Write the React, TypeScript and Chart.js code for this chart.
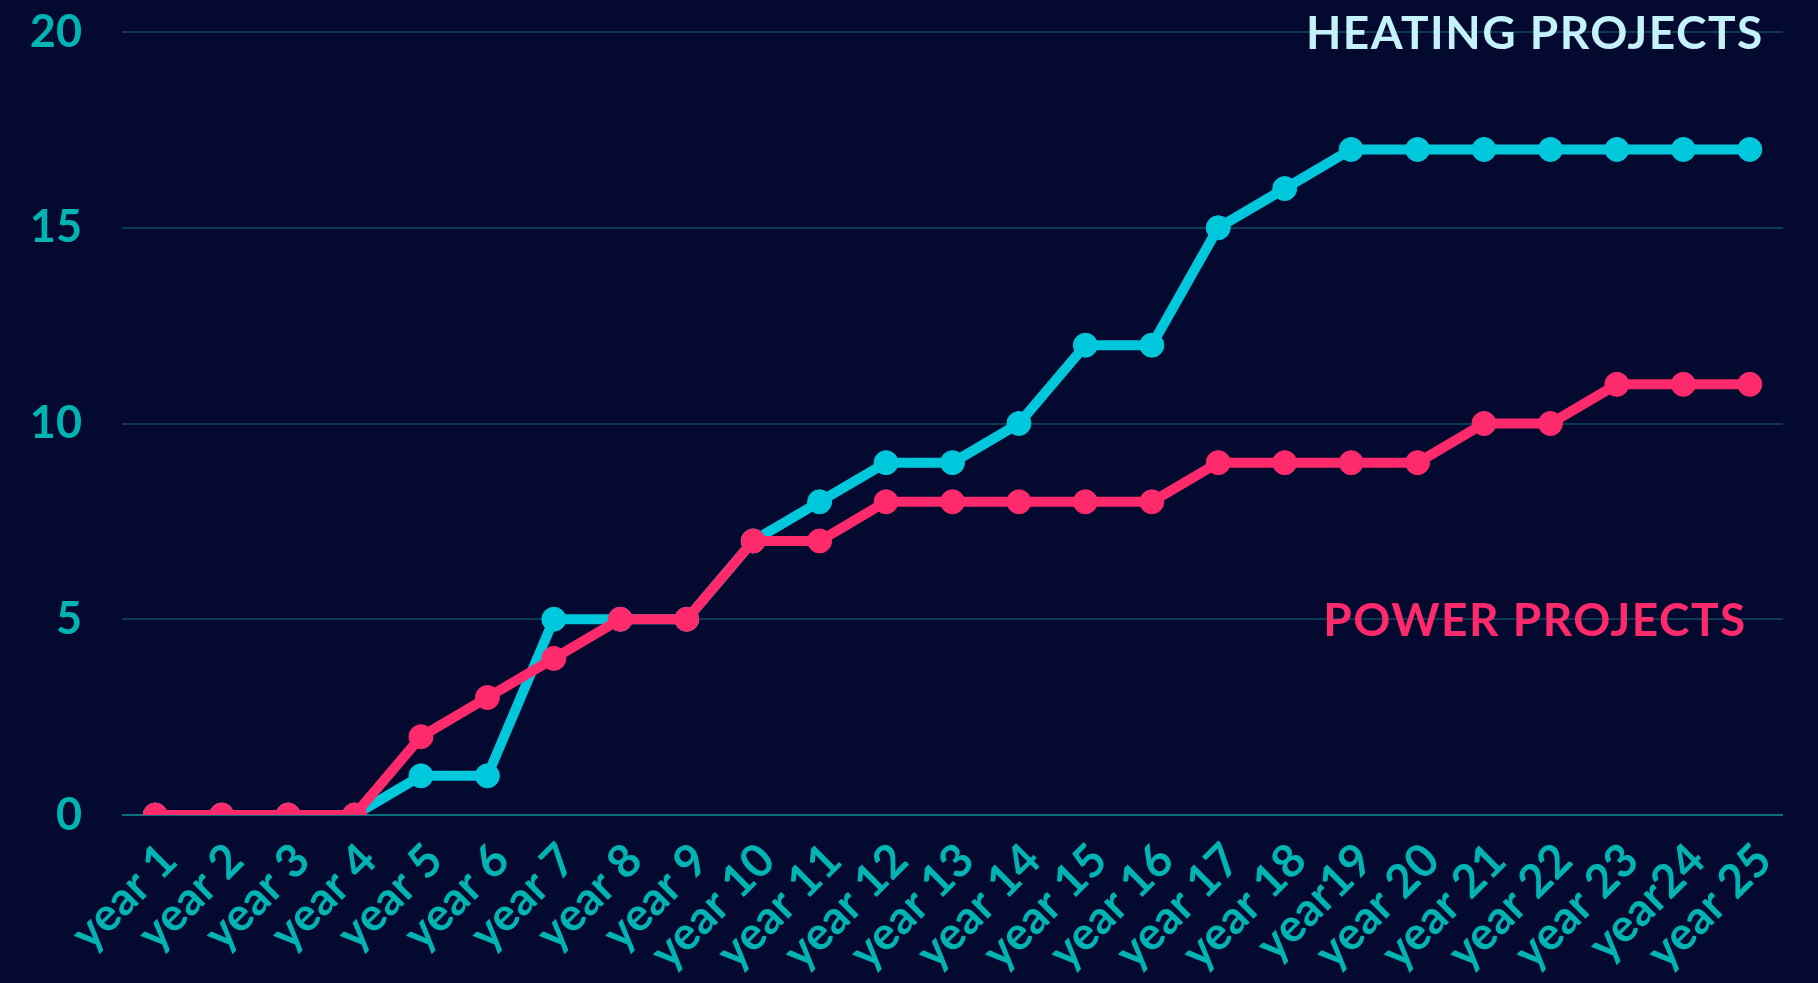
import React, { useEffect, useRef } from "react";
import { Chart, registerables } from "chart.js";

Chart.register(...registerables);

const categories = [
  "year 1", "year 2", "year 3", "year 4", "year 5", "year 6", "year 7", "year 8", "year 9", "year 10",
  "year 11", "year 12", "year 13", "year 14", "year 15", "year 16", "year 17", "year 18", "year19", "year 20",
  "year 21", "year 22", "year 23", "year24", "year 25",
];
const heatingProjects = [0, 0, 0, 0, 1, 1, 5, 5, 5, 7, 8, 9, 9, 10, 12, 12, 15, 16, 17, 17, 17, 17, 17, 17, 17];
const powerProjects = [0, 0, 0, 0, 2, 3, 4, 5, 5, 7, 7, 8, 8, 8, 8, 8, 9, 9, 9, 9, 10, 10, 11, 11, 11];
const yTicks = [0, 5, 10, 15, 20];
const seriesLabels = ["HEATING PROJECTS", "POWER PROJECTS"];
const labelValues = [20, 5];

const BG = "#040a2f";
const CYAN = "#00c8dc";
const PINK = "#ff2a6b";
const TICK = "#00b4b4";
const FONT = "Lato, 'Open Sans', sans-serif";

export default function App() {
  const ref = useRef<HTMLCanvasElement | null>(null);

  useEffect(() => {
    document.body.style.margin = "0";
    document.body.style.background = BG;
    const canvas = ref.current;
    if (!canvas) return;

    const labelPlugin = {
      id: "seriesLabels",
      afterDatasetsDraw(chart: any) {
        const { ctx, scales } = chart;
        const x = scales.x;
        const y = scales.y;
        ctx.save();
        ctx.textAlign = "right";
        ctx.textBaseline = "middle";
        ctx.font = `bold 46px ${FONT}`;
        try { (ctx as any).letterSpacing = "1.5px"; } catch (e) {}
        ctx.fillStyle = "#c4f1fa";
        const right0 = x.getPixelForValue(categories.length - 1) + 14;
        ctx.fillText(seriesLabels[0], right0, y.getPixelForValue(labelValues[0]) + 2);
        ctx.fillStyle = PINK;
        const right1 = x.getPixelForValue(categories.length - 1) - 3;
        ctx.fillText(seriesLabels[1], right1, y.getPixelForValue(labelValues[1]) + 2);
        ctx.restore();
      },
    };

    const bgPlugin = {
      id: "bg",
      beforeDraw(chart: any) {
        const { ctx, width, height } = chart;
        ctx.save();
        ctx.fillStyle = BG;
        ctx.fillRect(0, 0, width, height);
        ctx.restore();
      },
    };

    const chart = new Chart(canvas, {
      type: "line",
      data: {
        labels: categories,
        datasets: [
          {
            label: "Power projects",
            data: powerProjects,
            borderColor: PINK,
            backgroundColor: PINK,
            pointBackgroundColor: PINK,
            pointBorderColor: PINK,
            borderWidth: 10,
            pointRadius: 12,
            pointBorderWidth: 1,
            tension: 0,
          },
          {
            label: "Heating projects",
            data: heatingProjects,
            borderColor: CYAN,
            backgroundColor: CYAN,
            pointBackgroundColor: CYAN,
            pointBorderColor: CYAN,
            borderWidth: 10,
            pointRadius: 12,
            pointBorderWidth: 1,
            tension: 0,
          },
        ],
      },
      options: {
        animation: false,
        responsive: false,
        maintainAspectRatio: false,
        layout: { padding: { top: 32, right: 35, left: 0, bottom: 0 } },
        plugins: {
          legend: { display: false },
          tooltip: { enabled: false },
        },
        scales: {
          x: {
            offset: true,
            grid: { display: false },
            border: { display: false },
            ticks: {
              color: TICK,
              font: { family: FONT, size: 46, weight: "bold" },
              maxRotation: 45,
              minRotation: 45,
              autoSkip: false,
              padding: 10,
              labelOffset: 14,
            },
            afterFit(scale: any) {
              scale.height = 168;
              scale.paddingLeft = 0;
              scale.paddingRight = 0;
            },
          },
          y: {
            min: 0,
            max: 20,
            afterBuildTicks(scale: any) {
              scale.ticks = yTicks.map((v) => ({ value: v }));
            },
            grid: {
              color: (c: any) => (c.tick && c.tick.value === 0 ? "#0b6d7e" : "#0b3a52"),
              lineWidth: 2,
              drawTicks: false,
            },
            border: { display: false },
            ticks: {
              color: TICK,
              font: { family: FONT, size: 45, weight: "bold" },
              padding: 40,
            },
            afterFit(scale: any) {
              scale.width = 122;
              scale.paddingTop = 0;
              scale.paddingBottom = 0;
            },
          },
        },
      },
      plugins: [bgPlugin, labelPlugin],
    });

    return () => chart.destroy();
  }, []);

  return (
    <div style={{ width: 1818, height: 983, background: BG }}>
      <canvas ref={ref} width={1818} height={983} style={{ display: "block" }} />
    </div>
  );
}
